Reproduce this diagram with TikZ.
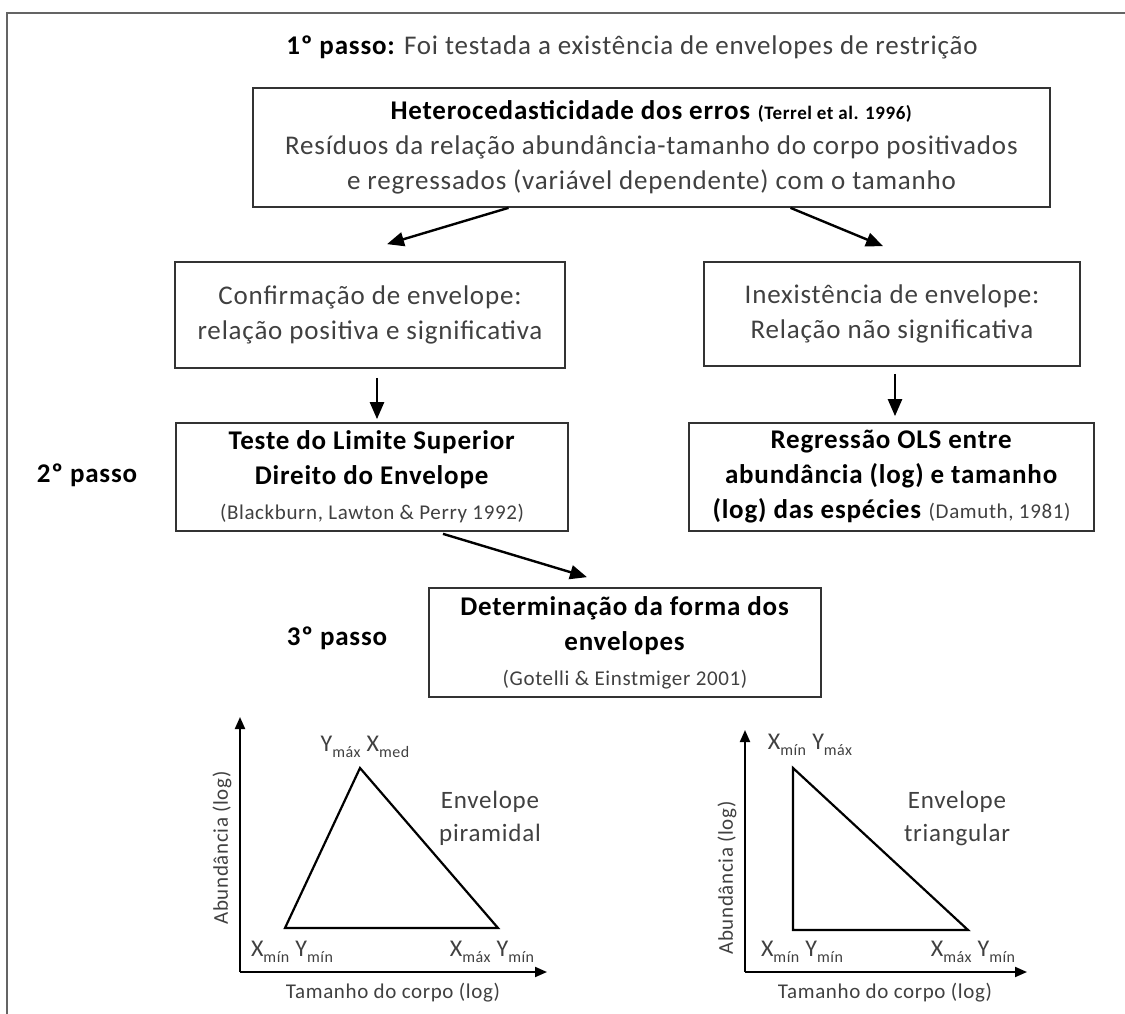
\documentclass[tikz,border=0pt]{standalone}
\usepackage{fontspec}
\setmainfont{Carlito}[LetterSpace=3]
\usetikzlibrary{arrows.meta}
\definecolor{txtgray}{RGB}{64,64,64}
\definecolor{framegray}{RGB}{100,100,100}
\newcommand{\sbs}[1]{\raisebox{-0.5ex}{\fontsize{16}{16}\selectfont #1}}
\newcommand{\refsize}{\fontsize{21}{24}\selectfont}
\tikzset{
  box/.style={draw=black!80, line width=1.7pt, align=center, inner sep=0pt,
    text=txtgray, font=\fontsize{27}{35}\selectfont},
  arr/.style={-{Triangle[length=17pt,width=14pt]}, line width=2.4pt},
  axis/.style={-{Triangle[length=12pt,width=10pt]}, line width=2pt},
  lbl/.style={text=txtgray, align=center, inner sep=0pt, font=\fontsize{25}{33}\selectfont},
  corner/.style={text=txtgray, inner sep=0pt, font=\fontsize{24}{24}\selectfont},
  axlbl/.style={text=txtgray, inner sep=0pt, font=\fontsize{21}{21}\selectfont},
  envline/.style={line width=2.2pt, line join=miter},
}
\begin{document}
\begin{tikzpicture}[x=1pt,y=-1pt]
\useasboundingbox (0,0) rectangle (1125,1014);
\draw[framegray, line width=2pt] (1125,13) -- (7,13) -- (7,1014);

\node[lbl, font=\fontsize{27}{35}\selectfont] (passo1) at (632,47) {\textbf{\color{black}1º passo:} Foi testada a existência de envelopes de restrição};

\node[box, minimum width=797pt, minimum height=119pt] (hetero) at (651.5,147.5)
  {{\color{black}\textbf{Heterocedasticidade dos erros} {\fontsize{19}{24}\selectfont\textbf{(Terrel et al. 1996)}}}\\
   Resíduos da relação abundância-tamanho do corpo positivados\\
   e regressados (variável dependente) com o tamanho};

\node[box, minimum width=390pt, minimum height=106pt] (confirm) at (370,315)
  {Confirmação de envelope:\\ relação positiva e significativa};
\node[box, minimum width=376pt, minimum height=104pt] (inexist) at (892,314)
  {Inexistência de envelope:\\ Relação não significativa};

\node[box, minimum width=392pt, minimum height=108pt, text=black] (teste) at (372,477)
  {\textbf{Teste do Limite Superior}\\ \textbf{Direito do Envelope}\\ {\refsize\color{txtgray}(Blackburn, Lawton \& Perry 1992)}};
\node[box, minimum width=405pt, minimum height=108pt, text=black] (ols) at (891.5,477)
  {\textbf{Regressão OLS entre}\\ \textbf{abundância (log) e tamanho}\\ \textbf{(log) das espécies} {\refsize\color{txtgray}(Damuth, 1981)}};

\node[box, minimum width=392pt, minimum height=109pt, text=black] (forma) at (625,642.5)
  {\textbf{Determinação da forma dos}\\ \textbf{envelopes}\\ {\refsize\color{txtgray}(Gotelli \& Einstmiger 2001)}};

\node[lbl, text=black, font=\fontsize{27}{35}\selectfont\bfseries] (passo2) at (87,475) {2º passo};
\node[lbl, text=black, font=\fontsize{27}{35}\selectfont\bfseries] (passo3) at (337,638) {3º passo};

% arrows between steps
\draw[arr] ([xshift=-143pt]hetero.south) -- ([xshift=17pt,yshift=17pt]confirm.north);
\draw[arr] ([xshift=139pt]hetero.south) -- ([xshift=-9pt,yshift=15pt]inexist.north);
\draw[arr] ([xshift=7pt,yshift=-9pt]confirm.south) -- ([xshift=7pt,yshift=3pt]confirm.south |- teste.north);
\draw[arr] ([xshift=3pt,yshift=-7pt]inexist.south) -- ([xshift=3pt,yshift=6pt]inexist.south |- ols.north);
\draw[arr] ([xshift=71pt,yshift=-2pt]teste.south) -- ([xshift=-38pt,yshift=10pt]forma.north);

% envelope piramidal
\coordinate (pO) at (240,972);
\draw[axis] (pO) -- (240,717);
\draw[axis] (pO) -- (547,972);
\coordinate (pA) at (285,928);
\coordinate (pB) at (360,768);
\coordinate (pC) at (498,928);
\draw[envline] (pA) -- (pB) -- (pC) -- cycle;
\node[corner] (pBl) at (365,747) {Y\sbs{máx} X\sbs{med}};
\node[corner] (pAl) at (292,952) {X\sbs{mín} Y\sbs{mín}};
\node[corner] (pCl) at (492,952) {X\sbs{máx} Y\sbs{mín}};
\node[lbl] (pEnv) at (490,818) {Envelope\\ piramidal};
\node[axlbl] (pX) at (393,993) {Tamanho do corpo (log)};
\node[axlbl, rotate=90] (pY) at (222,848) {Abundância (log)};

% envelope triangular
\coordinate (tO) at (745,972);
\draw[axis] (tO) -- (745,730);
\draw[axis] (tO) -- (1027,972);
\coordinate (tA) at (793,930);
\coordinate (tB) at (793,768);
\coordinate (tC) at (968,930);
\draw[envline] (tA) -- (tB) -- (tC) -- cycle;
\node[corner] (tBl) at (810,745) {X\sbs{mín} Y\sbs{máx}};
\node[corner] (tAl) at (802,952) {X\sbs{mín} Y\sbs{mín}};
\node[corner] (tCl) at (973,952) {X\sbs{máx} Y\sbs{mín}};
\node[lbl] (tEnv) at (957,818) {Envelope\\ triangular};
\node[axlbl] (tX) at (885,993) {Tamanho do corpo (log)};
\node[axlbl, rotate=90] (tY) at (727,878) {Abundância (log)};
\end{tikzpicture}
\end{document}
